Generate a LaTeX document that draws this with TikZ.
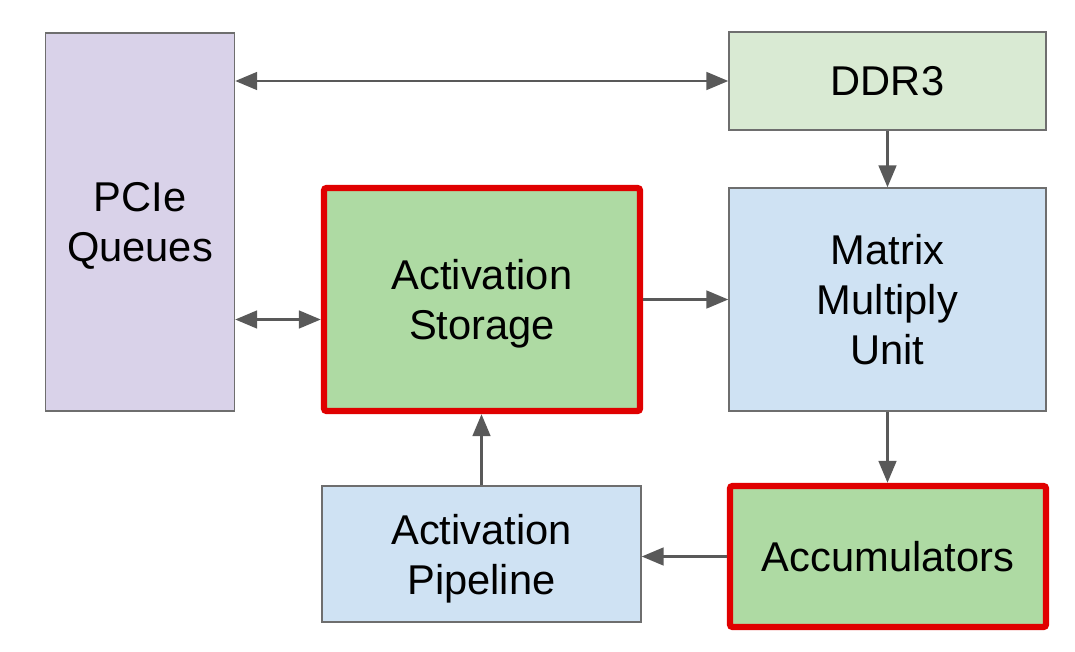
\documentclass[tikz,border=0pt]{standalone}
\usepackage{fontspec}
\setmainfont{Liberation Sans}
\usepackage{xcolor}
\definecolor{lavender}{RGB}{217,210,233}
\definecolor{palegreen}{RGB}{217,234,211}
\definecolor{leafgreen}{RGB}{174,218,163}
\definecolor{paleblue}{RGB}{207,226,243}
\definecolor{hotred}{RGB}{224,0,0}
\definecolor{arrowgray}{RGB}{89,89,89}
\definecolor{edgegray}{RGB}{110,110,110}
\usepackage{tikz}
\usetikzlibrary{arrows.meta}

\tikzset{
  block/.style={draw=edgegray, line width=0.75pt, align=center, inner sep=0pt,
                text depth=0pt, font=\fontsize{23.7}{28.4}\selectfont},
  hotblock/.style={block, draw=hotred, line width=3.6pt, rounded corners=1.5pt},
  link/.style={arrowgray, line width=1.7pt, -{Triangle[length=12.5pt,width=10pt]}},
  twolink/.style={link, {Triangle[length=12.5pt,width=10pt]}-{Triangle[length=12.5pt,width=10pt]}}
}

\begin{document}
\begin{tikzpicture}[x=0.02cm, y=-0.02cm] % one unit is one pixel of the reference
        \useasboundingbox (0,0) rectangle (1075,652);
        % Boxes
        \node[block, fill=lavender, minimum width=189*0.02cm, minimum height=378*0.02cm] (pcie) at (140,222) {PCIe\\Queues};
        \node[block, fill=palegreen, minimum width=317*0.02cm, minimum height=98*0.02cm] (ddr) at (887.5,81) {DDR3};
        \node[hotblock, fill=leafgreen, minimum width=316*0.02cm, minimum height=223*0.02cm] (act) at (482,299.5) {Activation\\Storage};
        \node[block, fill=paleblue, minimum width=317*0.02cm, minimum height=223*0.02cm] (mmu) at (887.5,299.5) {Matrix\\Multiply\\Unit};
        \node[block, fill=paleblue, minimum width=319*0.02cm, minimum height=136*0.02cm] (pipe) at (481.5,554) {Activation\\Pipeline};
        \node[hotblock, fill=leafgreen, minimum width=316*0.02cm, minimum height=141*0.02cm] (acc) at (888,556.5) {Accumulators};

        % Connectors
        \coordinate (pa) at ([yshift=-0.4cm]act.west);
        \draw[twolink] (pcie.east |- ddr.west) -- (ddr.west);
        \draw[twolink] (pcie.east |- pa) -- (pa);
        \draw[link] (act.east |- mmu.west) -- (mmu.west);
        \draw[link] (ddr.south) -- (mmu.north);
        \draw[link] (mmu.south) -- (mmu.south |- acc.north);
        \draw[link] (acc.west) -- (acc.west -| pipe.east);
        \draw[link] (pipe.north) -- (pipe.north |- act.south);
\end{tikzpicture}
\end{document}
